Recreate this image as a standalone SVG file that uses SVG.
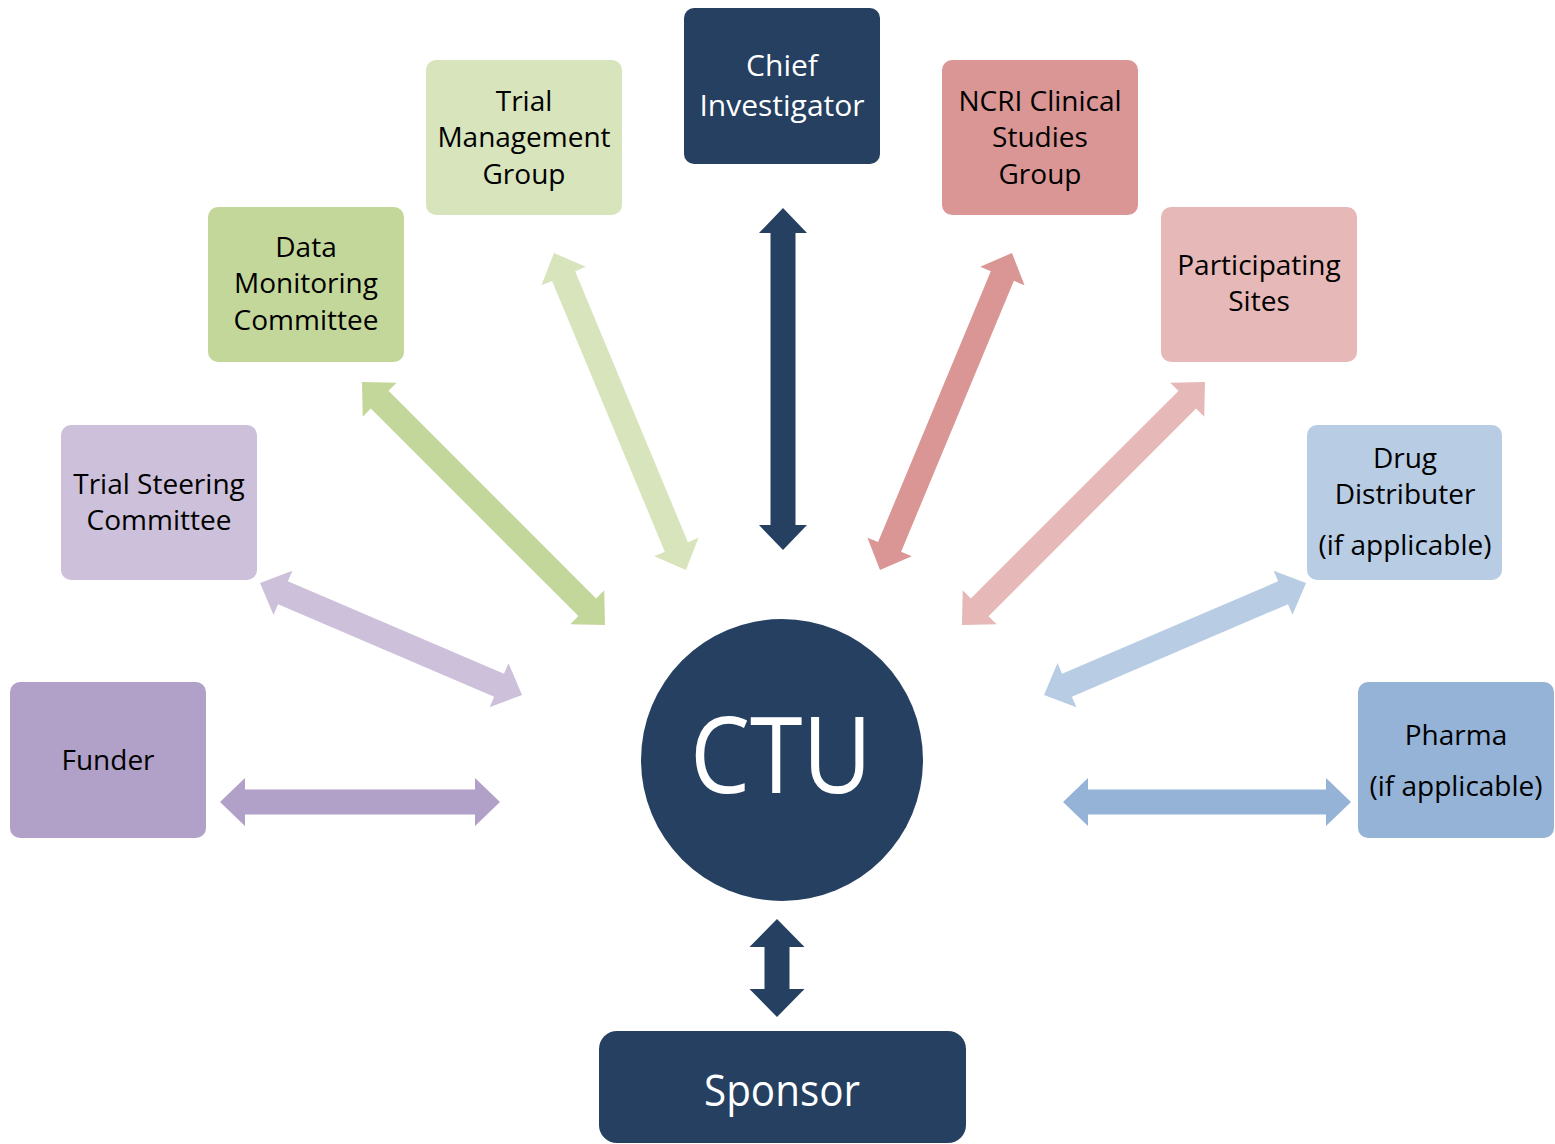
<svg xmlns="http://www.w3.org/2000/svg" width="1555" height="1144" viewBox="0 0 1555 1144">
<style>
.t{font-family:"Open Sans","Liberation Sans",sans-serif;font-size:28px;fill:#000;text-anchor:middle}
.w{fill:#fff}
.navy{fill:#254061}
.c-fund{fill:#b1a0c7}.c-tsc{fill:#ccc0da}.c-dmc{fill:#c4d79b}.c-tmg{fill:#d8e4bc}
.c-ncri{fill:#da9694}.c-ps{fill:#e6b8b7}.c-drug{fill:#b8cce4}.c-ph{fill:#95b3d7}
</style>
<rect width="1555" height="1144" fill="#fff"/>
<g id="connectors">
  <polygon class="c-fund" transform="translate(220,802)" points="0,0 25,-24 25,-12.5 255,-12.5 255,-24 280,0 255,24 255,12.5 25,12.5 25,24"/>
  <polygon class="c-tsc" transform="translate(260,583) rotate(23.15)" points="0,0 25,-24 25,-12.5 260,-12.5 260,-24 285,0 260,24 260,12.5 25,12.5 25,24"/>
  <polygon class="c-dmc" transform="translate(362,382) rotate(45)" points="0,0 25,-24 25,-12.5 318.6,-12.5 318.6,-24 343.6,0 318.6,24 318.6,12.5 25,12.5 25,24"/>
  <polygon class="c-tmg" transform="translate(554,253) rotate(67.4)" points="0,0 25,-24 25,-12.5 318.4,-12.5 318.4,-24 343.4,0 318.4,24 318.4,12.5 25,12.5 25,24"/>
  <polygon class="navy" transform="translate(783,208) rotate(90)" points="0,0 25,-24 25,-12.5 317,-12.5 317,-24 342,0 317,24 317,12.5 25,12.5 25,24"/>
  <polygon class="c-ncri" transform="translate(880,570) rotate(-67.4)" points="0,0 25,-24 25,-12.5 318.4,-12.5 318.4,-24 343.4,0 318.4,24 318.4,12.5 25,12.5 25,24"/>
  <polygon class="c-ps" transform="translate(962,625) rotate(-45)" points="0,0 25,-24 25,-12.5 318.6,-12.5 318.6,-24 343.6,0 318.6,24 318.6,12.5 25,12.5 25,24"/>
  <polygon class="c-drug" transform="translate(1044,695) rotate(-23.15)" points="0,0 25,-24 25,-12.5 260,-12.5 260,-24 285,0 260,24 260,12.5 25,12.5 25,24"/>
  <polygon class="c-ph" transform="translate(1063,802)" points="0,0 25,-24 25,-12.5 263,-12.5 263,-24 288,0 263,24 263,12.5 25,12.5 25,24"/>
  <polygon class="navy" transform="translate(777,919) rotate(90)" points="0,0 28,-27.5 28,-12.5 70,-12.5 70,-27.5 98,0 70,27.5 70,12.5 28,12.5 28,27.5"/>
</g>
<g id="funder"><rect class="c-fund" x="10" y="682" width="196" height="156" rx="10"/><text class="t" x="108" y="770">Funder</text></g>
<g id="tsc"><rect class="c-tsc" x="61" y="425" width="196" height="155" rx="10"/><text class="t" x="159" y="494">Trial Steering</text><text class="t" x="159" y="530">Committee</text></g>
<g id="dmc"><rect class="c-dmc" x="208" y="207" width="196" height="155" rx="10"/><text class="t" x="306" y="257">Data</text><text class="t" x="306" y="293">Monitoring</text><text class="t" x="306" y="330">Committee</text></g>
<g id="tmg"><rect class="c-tmg" x="426" y="60" width="196" height="155" rx="10"/><text class="t" x="524" y="111">Trial</text><text class="t" x="524" y="147">Management</text><text class="t" x="524" y="184">Group</text></g>
<g id="ci"><rect class="navy" x="684" y="8" width="196" height="156" rx="10"/><text class="t w" x="782" y="76" style="font-size:30px">Chief</text><text class="t w" x="782" y="116" style="font-size:30px">Investigator</text></g>
<g id="ncri"><rect class="c-ncri" x="942" y="60" width="196" height="155" rx="10"/><text class="t" x="1040" y="111">NCRI Clinical</text><text class="t" x="1040" y="147">Studies</text><text class="t" x="1040" y="184">Group</text></g>
<g id="ps"><rect class="c-ps" x="1161" y="207" width="196" height="155" rx="10"/><text class="t" x="1259" y="275">Participating</text><text class="t" x="1259" y="311">Sites</text></g>
<g id="drug"><rect class="c-drug" x="1307" y="425" width="195" height="155" rx="10"/><text class="t" x="1405" y="468">Drug</text><text class="t" x="1405" y="504">Distributer</text><text class="t" x="1405" y="555">(if applicable)</text></g>
<g id="pharma"><rect class="c-ph" x="1358" y="682" width="196" height="156" rx="10"/><text class="t" x="1456" y="745">Pharma</text><text class="t" x="1456" y="796">(if applicable)</text></g>
<g id="ctu"><circle class="navy" cx="782" cy="760" r="141"/><text class="t w" x="781" y="793" style="font-size:106px" textLength="182" lengthAdjust="spacingAndGlyphs">CTU</text></g>
<g id="sponsor"><rect class="navy" x="599" y="1031" width="367" height="112" rx="18"/><text class="t w" x="782" y="1106" style="font-size:44px" textLength="156" lengthAdjust="spacingAndGlyphs">Sponsor</text></g>
</svg>
